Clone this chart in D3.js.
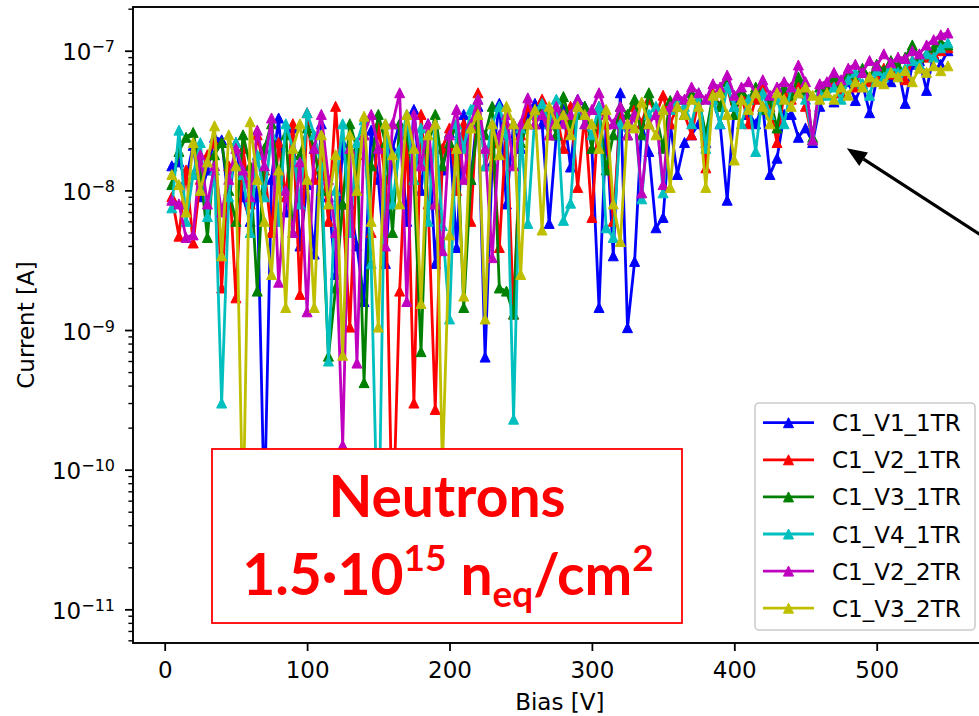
<!DOCTYPE html>
<html><head><meta charset="utf-8">
<script src="https://cdn.jsdelivr.net/npm/d3@7"></script>
<style>body{margin:0;background:#fff;overflow:hidden} svg{display:block}</style>
</head><body><svg id="chart" width="979" height="716"></svg>
<script>
// Bias voltage [V]
const bias = [5,10,15,20,25,30,35,40,45,50,55,60,65,70,75,80,85,90,95,100,
  105,110,115,120,125,130,135,140,145,150,155,160,165,170,175,180,185,190,195,200,
  205,210,215,220,225,230,235,240,245,250,255,260,265,270,275,280,285,290,295,300,
  305,310,315,320,325,330,335,340,345,350,355,360,365,370,375,380,385,390,395,400,
  405,410,415,420,425,430,435,440,445,450,455,460,465,470,475,480,485,490,495,500,
  505,510,515,520,525,530,535,540,545,550];

const seriesNames = ["C1_V1_1TR","C1_V2_1TR","C1_V3_1TR","C1_V4_1TR","C1_V2_2TR","C1_V3_2TR"];
const seriesColors = ["#0000ff","#ff0000","#008000","#00bfbf","#bf00bf","#bfbf00"];

// Currents in nA
const c1_v1_1tr = [15,16,12,21,9,14,24,
  23,8,22,9,6,10,0.05,12,33,7,28,4,11,3.5,30,9,2.5,22,8,4,1.6,27,12,3,20,30,6,38,10,30,3,14,26,3.9,35,12,40,0.64,16,42,8,30,20,
  35,42,30,5.8,25,38,14.7,45,40,20,1.45,30,3.4,50,1.04,3.1,
  30,19,5.4,6.4,30,13,22,25,30,22,45,30,8.5,40,50,35,30,40,13,17,35,35,24,28,22,40,
  50,43,55,60,44,58,36,62,70,60,75,42,80,85,52,95,80,100];
const c1_v2_1tr = [9,4.7,14,4.2,12,18,22,
  2.0,15,1.7,20,8,25,14,5,22,9,30,1.8,36,12,20,6,40,8,1.05,18,25,5,30,12,0.03,1.9,28,0.3,35,8,0.27,20,28,10,30,6,50,15,22,3.9,30,1.3,25,
  40,30,45,25,35,20,40,10.5,35,6.4,40,30,6,35,25,40,
  30,45,35,48,30,40,35,25,45,14.5,50,40,55,35,48,30,45,55,40,22,50,45,60,40,23,50,
  55,60,50,65,55,70,60,65,75,68,72,62,85,80,90,95,100,105];
const c1_v3_1tr = [11,19,24,26,14,4.6,18,
  22,10,6,25,15,1.9,20,30,12,25,5,18,28,20,10,0.65,2,8,30,20,0.42,15,35,22,5,30,25,12,0.7,20,35,15,22,30,1.45,12,30,25,40,2.0,1.9,1.3,22,
  30,38,40,35,25,47,30,35,40,20,38,14,25,40,35,45,
  25,50,35,20,44,40,35,50,45,25,48,40,60,35,52,45,55,38,45,28,55,48,65,50,24,55,
  55,65,58,70,60,75,65,80,72,85,78,90,110,90,95,105,115,110];
const c1_v4_1tr = [7.5,27,6,13,22,6.5,14,
  0.3,9,22,13,5,18,9,25,6,30,20,8,36,25,15,0.6,10,30,5,22,32,3,0.02,30,8,20,35,12,28,6,30,5.6,1.2,30,20,38,45,15,30,40,25,0.23,28,
  5.8,35,42,30,45,6.1,8.1,40,30,25,40,5.4,4.6,30,25,35,
  8.7,35,40,9.6,38,45,40,30,50,20,45,30,55,40,30,45,19,50,35,45,30,55,50,45,23,50,
  48,55,45,62,70,58,48,72,65,78,70,75,85,80,95,90,105,114];
const c1_v2_2tr = [8.5,8,4.6,4.8,18,8,15,
  7,12,20,14,9,27,15,33,2.2,10,5,16,1.35,20,35,12,5,0.15,20,0.58,25,35,20,4,30,50,1.6,35,15,30,8,3.7,25,38,12,30,45,20,3.3,25,35,15,30,
  46,30,35,25,40,30,35,45,30,38,50,35,30,40,25,35,
  9.6,30,35,11,40,48,45,55,50,45,58,55,67,48,55,60,50,62,48,55,60,55,79,60,23,58,
  60,70,62,75,80,70,85,78,95,82,90,88,100,95,110,120,130,134];
const c1_v3_2tr = [13,11,7,22,10,16,29,
  3.4,25,15,0.04,31,12,6,2.5,14,1.45,20,30,12,1.45,25,8,18,0.66,25,10,34,6,1.05,30,18,8,35,20,1.55,25,30,0.1,4.8,20,1.75,28,35,1.2,30,18,40,30,2.5,
  30,38,5.2,40,30,35,25,40,35,30,20,38,8,4.3,30,28,
  43,30,25,38,10.5,40,35,45,40,10.5,48,50,35,16.5,45,38,50,40,30,50,45,40,50,55,48,45,
  50,45,55,48,60,55,65,60,58,70,65,72,60,75,70,78,72,78];

const xTicks = [0,100,200,300,400,500];
const yTickExponents = [-7,-8,-9,-10,-11];

const allSeries = [c1_v1_1tr,c1_v2_1tr,c1_v3_1tr,c1_v4_1tr,c1_v2_2tr,c1_v3_2tr];

const FONT = "'DejaVu Sans', sans-serif";
const FS = 23;
const svg = d3.select("#chart");
const L = 133, T = 7, R = 986.5, B = 643;

const x = d3.scaleLinear().domain([-22.26, 577.1]).range([L, R]);
const y = d3.scaleLog().domain([5.74e-12, 2.056e-7]).range([B, T]);

// clip
svg.append("defs").append("clipPath").attr("id","clip")
  .append("rect").attr("x",L).attr("y",T).attr("width",R-L).attr("height",B-T);

// data
const plot = svg.append("g").attr("clip-path","url(#clip)");
const tri = "M0,-5L5,5L-5,5Z";
allSeries.forEach((vals,si)=>{
  const pts = vals.map((v,i)=>({x:bias[i], y:v*1e-9}));
  const line = d3.line().x(d=>x(d.x)).y(d=>y(d.y));
  const g = plot.append("g");
  g.append("path").attr("d",line(pts)).attr("fill","none")
    .attr("stroke",seriesColors[si]).attr("stroke-width",2.8).attr("stroke-linejoin","round");
  g.selectAll("path.m").data(pts).enter().append("path").attr("class","m")
    .attr("d",tri).attr("transform",d=>`translate(${x(d.x)},${y(d.y)})`)
    .attr("fill",seriesColors[si]).attr("stroke",seriesColors[si]).attr("stroke-width",1);
});

// axes
const xAxis = d3.axisBottom(x).tickValues(xTicks).tickSize(8).tickPadding(11).tickFormat(d3.format("d"));
const gx = svg.append("g").attr("transform",`translate(0,${B})`).call(xAxis);
gx.select(".domain").remove();
gx.selectAll(".tick line").attr("stroke","#000").attr("stroke-width",1.8);
gx.selectAll(".tick text").attr("font-family",FONT).attr("font-size",FS).attr("fill","#000");

const yMajor = yTickExponents.map(e=>Math.pow(10,e));
const yMinor = [];
[-12,-11,-10,-9,-8,-7].forEach(e=>{ for(let k=2;k<=9;k++){ const v=k*Math.pow(10,e); if(v>=5.74e-12 && v<=2.056e-7) yMinor.push(v);} });
const gyMinor = svg.append("g").attr("transform",`translate(${L},0)`)
  .call(d3.axisLeft(y).tickValues(yMinor).tickSize(4.6).tickFormat(""));
gyMinor.select(".domain").remove();
gyMinor.selectAll(".tick line").attr("stroke","#000").attr("stroke-width",1.4);

const gy = svg.append("g").attr("transform",`translate(${L},0)`)
  .call(d3.axisLeft(y).tickValues(yMajor).tickSize(8).tickFormat(""));
gy.select(".domain").remove();
gy.selectAll(".tick line").attr("stroke","#000").attr("stroke-width",1.8);
gy.selectAll(".tick").each(function(d,i){
  const g = d3.select(this);
  g.select("text").remove();
  const t = g.append("text").attr("x",-18).attr("y",9).attr("text-anchor","end")
    .attr("font-family",FONT).attr("font-size",FS).attr("fill","#000");
  t.append("tspan").text("10");
  t.append("tspan").attr("dy",-8).attr("font-size",16).text("\u2212"+Math.abs(yTickExponents[i]));
});

// spines
const sp = svg.append("g").attr("stroke","#000").attr("stroke-width",1.9).attr("fill","none");
sp.append("rect").attr("x",L).attr("y",T).attr("width",R-L).attr("height",B-T);

// axis labels
svg.append("text").attr("transform",`translate(34,${(T+B)/2}) rotate(-90)`)
  .attr("text-anchor","middle").attr("font-family",FONT).attr("font-size",FS).text("Current [A]");
svg.append("text").attr("x",(L+R)/2).attr("y",710)
  .attr("text-anchor","middle").attr("font-family",FONT).attr("font-size",FS).text("Bias [V]");

// legend
const lg = svg.append("g");
lg.append("rect").attr("x",755).attr("y",403).attr("width",220).attr("height",227).attr("rx",4)
  .attr("fill","#fff").attr("fill-opacity",0.8).attr("stroke","#cccccc").attr("stroke-width",1.6);
seriesNames.forEach((n,i)=>{
  const cy = 422.7 + i*37.1;
  lg.append("line").attr("x1",763).attr("x2",814).attr("y1",cy).attr("y2",cy)
    .attr("stroke",seriesColors[i]).attr("stroke-width",2.8);
  lg.append("path").attr("d",tri).attr("transform",`translate(788.5,${cy})`)
    .attr("fill",seriesColors[i]).attr("stroke",seriesColors[i]);
  lg.append("text").attr("x",832).attr("y",cy+8.5).attr("font-family",FONT).attr("font-size",FS).text(n);
});

// annotation box
const BF = "Lato, 'Open Sans', sans-serif";
svg.append("rect").attr("x",212).attr("y",449).attr("width",470).attr("height",174)
  .attr("fill","#fff").attr("stroke","#ff0000").attr("stroke-width",1.8);
svg.append("text").attr("x",447).attr("y",517).attr("text-anchor","middle")
  .attr("font-family",BF).attr("font-weight","bold").attr("font-size",57).attr("fill","#ff0000").text("Neutrons");
const t2 = svg.append("text").attr("x",448).attr("y",595).attr("text-anchor","middle")
  .attr("font-family",BF).attr("font-weight","bold").attr("font-size",57).attr("fill","#ff0000");
t2.append("tspan").text("1.5\u00b710");
t2.append("tspan").attr("font-size",37).attr("dy",-24).text("15");
t2.append("tspan").attr("font-size",57).attr("dy",24).text(" n");
t2.append("tspan").attr("font-size",37).attr("dy",12).text("eq");
t2.append("tspan").attr("font-size",57).attr("dy",-12).text("/cm");
t2.append("tspan").attr("font-size",37).attr("dy",-24).text("2");

// arrow
const tip = [x(479), y(2.0e-8)];
const tail = [tip[0]+170, tip[1]+110];
const dx = tail[0]-tip[0], dy = tail[1]-tip[1], len = Math.hypot(dx,dy);
const u = [dx/len, dy/len], p = [-u[1], u[0]];
const hl = 20, hw = 8;
const base = [tip[0]+u[0]*hl, tip[1]+u[1]*hl];
svg.append("line").attr("x1",base[0]).attr("y1",base[1]).attr("x2",tail[0]).attr("y2",tail[1])
  .attr("stroke","#000").attr("stroke-width",3.2);
svg.append("path").attr("d",`M${tip[0]},${tip[1]}L${base[0]+p[0]*hw},${base[1]+p[1]*hw}L${base[0]-p[0]*hw},${base[1]-p[1]*hw}Z`)
  .attr("fill","#000");
</script></body></html>
